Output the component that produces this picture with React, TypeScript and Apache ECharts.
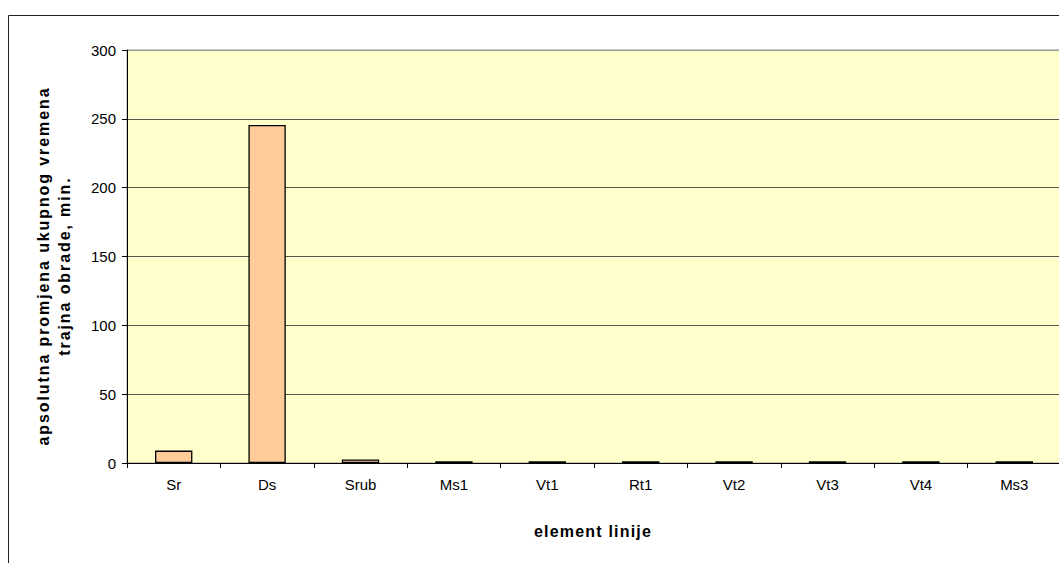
import React, { useEffect, useRef } from "react";
import * as echarts from "echarts";

const categories = ["Sr", "Ds", "Srub", "Ms1", "Vt1", "Rt1", "Vt2", "Vt3", "Vt4", "Ms3"];
const values = [9, 245.5, 2.5, 1.2, 1.2, 1.2, 1.2, 1.2, 1.2, 1.2];
const yTicks = { min: 0, max: 300, interval: 50 };
const yTitle = "apsolutna promjena ukupnog vremena\ntrajna obrade, min.";
const xTitle = "element linije";

const FONT = "'Liberation Sans', Arial, sans-serif";

export default function App() {
  const ref = useRef<HTMLDivElement>(null);
  useEffect(() => {
    if (!ref.current) return;
    const chart = echarts.init(ref.current, null, { renderer: "svg" });
    const grid = "#55554a";
    chart.setOption({
      animation: false,
      backgroundColor: "#ffffff",
      textStyle: { fontFamily: FONT },
      grid: {
        left: 127,
        top: 50,
        width: 934,
        height: 413,
        show: true,
        backgroundColor: "#FFFFCC",
        borderColor: "#9a9a9a",
        borderWidth: 1,
      },
      xAxis: {
        type: "category",
        data: categories,
        axisLine: { lineStyle: { color: "#000", width: 1 } },
        axisTick: { show: true, length: 5, inside: false, alignWithLabel: false, lineStyle: { color: "#000" } },
        axisLabel: { color: "#000", fontSize: 15, margin: 14, fontFamily: FONT },
        splitLine: { show: false },
      },
      yAxis: {
        type: "value",
        min: yTicks.min,
        max: yTicks.max,
        interval: yTicks.interval,
        axisLine: { show: true, lineStyle: { color: "#000", width: 1 } },
        axisTick: { show: true, length: 5, lineStyle: { color: "#000" } },
        axisLabel: { color: "#000", fontSize: 15, margin: 11, fontFamily: FONT },
        splitLine: {
          show: true,
          lineStyle: { color: [grid, grid, grid, grid, grid, grid, "#9a9a9a"], width: 1 },
        },
      },
      series: [
        {
          type: "bar",
          data: values,
          barWidth: "40%",
          itemStyle: { color: "#FFCC99", borderColor: "#000", borderWidth: 1.3 },
        },
      ],
      graphic: [
        {
          type: "rect",
          silent: true,
          shape: { x: 8.5, y: 15.5, width: 1200, height: 800 },
          style: { fill: "none", stroke: "#222", lineWidth: 1 },
        },
        {
          type: "text",
          x: 54,
          y: 266,
          rotation: Math.PI / 2,
          style: {
            text: yTitle,
            font: `bold 16px ${FONT}`,
            fill: "#000",
            textAlign: "center",
            textVerticalAlign: "middle",
            lineHeight: 21,
          },
        },
        {
          type: "text",
          x: 593,
          y: 531,
          style: {
            text: xTitle,
            font: `bold 16px ${FONT}`,
            fill: "#000",
            textAlign: "center",
            textVerticalAlign: "middle",
          },
        },
      ],
    });
    const texts = ref.current.querySelectorAll("text");
    texts.forEach((t) => {
      const s = t.textContent || "";
      if (s.startsWith("apsolutna") || s.startsWith("trajna")) {
        t.setAttribute("letter-spacing", "1.9");
      } else if (s === xTitle) {
        t.setAttribute("letter-spacing", "1.2");
      }
    });
    return () => chart.dispose();
  }, []);
  return (
    <div style={{ position: "fixed", left: 0, top: 0, width: 1059, height: 563, overflow: "hidden", background: "#fff" }}>
      <div ref={ref} style={{ width: 1100, height: 563 }} />
    </div>
  );
}
